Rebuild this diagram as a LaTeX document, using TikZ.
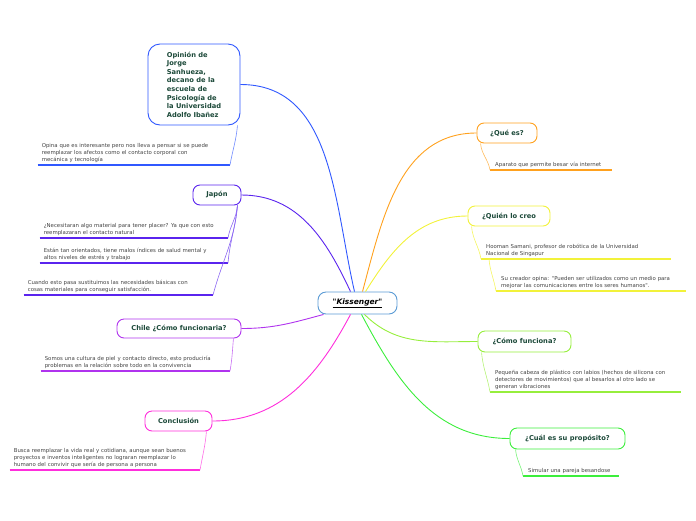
\documentclass[tikz,border=0pt]{standalone}
\usepackage{fontspec}
\setmainfont{DejaVu Sans}
\usetikzlibrary{positioning}

\definecolor{cazul}{HTML}{3058FF}
\definecolor{cindigo}{HTML}{5A24EE}
\definecolor{cviol}{HTML}{B033EE}
\definecolor{cmag}{HTML}{FF2EDC}
\definecolor{cnar}{HTML}{FFA11E}
\definecolor{cama}{HTML}{F2F23A}
\definecolor{clima}{HTML}{96EE3C}
\definecolor{cverde}{HTML}{3CEE3C}
\definecolor{ccentro}{HTML}{5B9BD5}
\definecolor{verdeosc}{HTML}{1D4A3A}
\definecolor{grisosc}{HTML}{444444}

\begin{document}
\begin{tikzpicture}[x=1pt, y=-1pt,
    tema/.style  = {draw, rounded corners=7pt, line width=0.9pt, fill=white,
                    text=verdeosc, font=\fontsize{6.7}{8.6}\selectfont\bfseries, inner sep=2pt},
    nota/.style  = {anchor=south west, text=grisosc, font=\fontsize{5.4}{7}\selectfont,
                    align=left, inner xsep=4pt, inner ysep=2.5pt},
    notaL/.style = {nota, anchor=south east},
    rama/.style  = {line width=0.9pt},
    sub/.style   = {line width=0.6pt},
    raya/.style  = {line width=1.3pt},
]
\useasboundingbox (0,0) rectangle (696,520);

%% ---- Center ----
\node[tema, draw=ccentro, text=black, rounded corners=8pt, minimum width=79pt, minimum height=22pt,
      font=\fontsize{7.5}{9}\selectfont\bfseries\itshape] (kiss) at (357.5,303)
    {\underline{\textquotedbl Kissenger\textquotedbl}};

%% ---- Left topics ----
\node[tema, draw=cazul, rounded corners=12pt, minimum width=92pt, minimum height=81pt, align=left]
    (op) at (194,84.5) {Opinión de\\Jorge\\Sanhueza,\\decano de la\\escuela de\\Psicología de\\la Universidad\\Adolfo Ibañez};
\node[tema, draw=cindigo, minimum width=48pt, minimum height=20pt] (jap)   at (217,195)   {Japón};
\node[tema, draw=cviol,   minimum width=124pt, minimum height=19pt] (chile) at (179,328.5) {Chile ¿Cómo funcionaria?};
\node[tema, draw=cmag,    minimum width=67pt, minimum height=20pt] (conc)  at (178.5,421) {Conclusión};

%% ---- Right topics ----
\node[tema, draw=cnar,   minimum width=60pt,  minimum height=20pt] (que)   at (507,133)   {¿Qué es?};
\node[tema, draw=cama,   minimum width=82pt,  minimum height=20pt] (quien) at (509,216)   {¿Quién lo creo};
\node[tema, draw=clima,  minimum width=93pt,  minimum height=21pt] (como)  at (524.5,341.5) {¿Cómo funciona?};
\node[tema, draw=cverde, minimum width=115pt, minimum height=21pt] (cual)  at (567.5,438.5) {¿Cuál es su propósito?};

%% ---- Branches from the center ----
\draw[rama, cazul]   ([xshift=-3pt]kiss.north) to[out=103, in=0]   (op.east);
\draw[rama, cindigo] ([xshift=-7pt]kiss.north) to[out=115, in=0]   (jap.east);
\draw[rama, cviol]   ([xshift=6pt]kiss.south west) to[out=195, in=0] (chile.east);
\draw[rama, cmag]    ([xshift=-7pt]kiss.south) to[out=-118, in=0]  (conc.east);
\draw[rama, cnar]    ([xshift=5pt]kiss.north)  to[out=75, in=180]  (que.west);
\draw[rama, cama]    ([xshift=8pt]kiss.north)  to[out=58, in=180]  (quien.west);
\draw[rama, clima]   ([xshift=7pt]kiss.south)  to[out=-45, in=180] (como.west);
\draw[rama, cverde]  ([xshift=4pt]kiss.south)  to[out=-62, in=180] (cual.west);

%% ---- Notes, left ----
\node[notaL, text width=184pt] (nop) at (230,165)
    {Opina que es interesante pero nos lleva a pensar si se puede\\reemplazar los afectos como el contacto corporal con\\mecánica y tecnología};
\node[notaL, text width=180pt] (nj1) at (228,238)
    {¿Necesitaran algo material para tener placer? Ya que con esto\\reemplazaran el contacto natural};
\node[notaL, text width=180pt] (nj2) at (228,263)
    {Están tan orientados, tiene malos índices de salud mental y\\altos niveles de estrés y trabajo};
\node[notaL, text width=181pt] (nj3) at (213,295)
    {Cuando esto pasa sustituimos las necesidades básicas con\\cosas materiales para conseguir satisfacción.};
\node[notaL, text width=181pt] (nch) at (230,371)
    {Somos una cultura de piel y contacto directo, esto produciría\\problemas en la relación sobre todo en la convivencia};
\node[notaL, text width=182pt] (nco) at (200,470)
    {Busca reemplazar la vida real y cotidiana, aunque sean buenos\\proyectos e inventos inteligentes no lograran reemplazar lo\\humano del convivir que sería de persona a persona};

%% ---- Notes, right ----
\node[nota, text width=112pt, inner xsep=5pt] (nqe) at (490,170) {Aparato que permite besar vía internet};
\node[nota, text width=180pt, inner xsep=5pt] (nq1) at (481,259)
    {Hooman Samani, profesor de robótica de la Universidad\\Nacional de Singapur};
\node[nota, text width=180pt, inner xsep=5pt] (nq2) at (496,291)
    {Su creador opina: \textquotedbl Pueden ser utilizados como un medio para\\mejorar las comunicaciones entre los seres humanos\textquotedbl.};
\node[nota, text width=181pt, inner xsep=5pt] (ncf) at (490,392)
    {Pequeña cabeza de plástico con labios (hechos de silicona con\\detectores de movimientos) que al besarlos al otro lado se\\generan vibraciones};
\node[nota, text width=86pt, inner xsep=5pt] (ncu) at (523,476) {Simular una pareja besandose};

%% ---- Underlines ----
\foreach \n/\c in {nop/cazul, nj1/cindigo, nj2/cindigo, nj3/cindigo, nch/cviol, nco/cmag,
                   nqe/cnar, nq1/cama, nq2/cama, ncf/clima, ncu/cverde}{
    \draw[raya, \c] (\n.south west) -- (\n.south east);
}

%% ---- Sub-branches ----
\draw[sub, cazul!70]   ([xshift=-3pt]op.south east)  to[out=-95, in=80] (nop.south east);
\draw[sub, cindigo!70] ([xshift=-4pt]jap.south east) to[out=-95, in=80] (nj1.south east);
\draw[sub, cindigo!70] ([xshift=-4pt]jap.south east) to[out=-95, in=85] (nj2.south east);
\draw[sub, cindigo!70] ([xshift=-4pt]jap.south east) to[out=-95, in=75] (nj3.south east);
\draw[sub, cviol!70]   ([xshift=-8pt]chile.south east) to[out=-95, in=80] (nch.south east);
\draw[sub, cmag!70]    ([xshift=-6pt]conc.south east)  to[out=-95, in=80] (nco.south east);
\draw[sub, cnar!70]    ([xshift=4pt]que.south west)    to[out=-85, in=100] (nqe.south west);
\draw[sub, cama!80]    ([xshift=4pt]quien.south west)  to[out=-85, in=100] (nq1.south west);
\draw[sub, cama!80]    ([xshift=8pt]nq1.south west)    to[out=-85, in=100] (nq2.south west);
\draw[sub, clima!70]   ([xshift=4pt]como.south west)   to[out=-85, in=100] (ncf.south west);
\draw[sub, cverde!70]  ([xshift=6pt]cual.south west)   to[out=-85, in=100] (ncu.south west);

\end{tikzpicture}
\end{document}
